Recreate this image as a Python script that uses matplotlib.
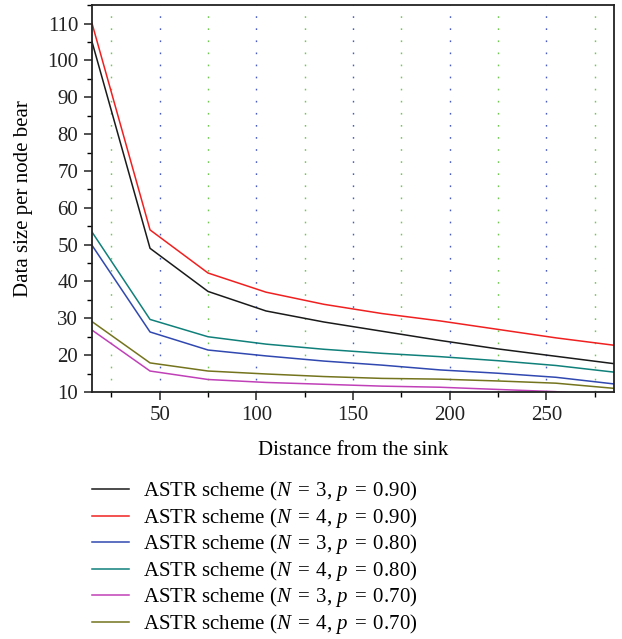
import matplotlib
matplotlib.use('Agg')
import matplotlib.pyplot as plt
from matplotlib.ticker import MultipleLocator

plt.rcParams['font.family'] = ['Liberation Serif', 'DejaVu Serif']
plt.rcParams['mathtext.fontset'] = 'custom'
plt.rcParams['mathtext.rm'] = 'Liberation Serif'
plt.rcParams['mathtext.it'] = 'Liberation Serif:italic'

# distance from the sink
distance = [15, 45, 75, 105, 135, 165, 195, 225, 255, 285]

# data size per node bear
n3_p90 = [105, 49, 37.3, 32, 29, 26.5, 24, 21.7, 19.7, 17.7]
n4_p90 = [110, 54, 42.3, 37.1, 33.8, 31.3, 29.3, 27, 24.7, 22.7]
n3_p80 = [49.8, 26.3, 21.4, 19.8, 18.4, 17.3, 16, 15.1, 14, 12.2]
n4_p80 = [53.4, 29.7, 25, 23, 21.6, 20.5, 19.6, 18.5, 17.2, 15.4]
n3_p70 = [26.8, 15.7, 13.4, 12.6, 12.1, 11.6, 11.3, 10.7, 10.1, 8.7]
n4_p70 = [29.1, 17.9, 15.7, 14.9, 14.2, 13.7, 13.5, 13, 12.4, 11]

labels = [
    'ASTR scheme ($N$\u2004=\u20043, $p$\u2004=\u20040.90)',
    'ASTR scheme ($N$\u2004=\u20044, $p$\u2004=\u20040.90)',
    'ASTR scheme ($N$\u2004=\u20043, $p$\u2004=\u20040.80)',
    'ASTR scheme ($N$\u2004=\u20044, $p$\u2004=\u20040.80)',
    'ASTR scheme ($N$\u2004=\u20043, $p$\u2004=\u20040.70)',
    'ASTR scheme ($N$\u2004=\u20044, $p$\u2004=\u20040.70)',
]
series = [n3_p90, n4_p90, n3_p80, n4_p80, n3_p70, n4_p70]
colors = ['#1a1a1a', '#f02020', '#3048b0', '#10807a', '#c040b8', '#74741e']

fs = 15

fig = plt.figure(figsize=(6.22, 6.39), dpi=100)
ax = fig.add_axes([0.148, 0.3865, 0.839, 0.6055])

for ys, c, lab in zip(series, colors, labels):
    ax.plot(distance, ys, color=c, lw=1.1, label=lab)

ax.set_xlim(15, 285)
ax.set_ylim(10, 115)
ax.xaxis.set_major_locator(MultipleLocator(50))
ax.xaxis.set_minor_locator(MultipleLocator(25))
ax.yaxis.set_minor_locator(MultipleLocator(5))
ax.set_yticks(range(10, 111, 10))

# dotted vertical guides: blue on major ticks, green on minor ticks
ax.grid(True, which='major', axis='x', color='#4a5cc0', lw=1.0, linestyle=(0, (1.2, 7.5)))
ax.grid(True, which='minor', axis='x', color='#70c850', lw=1.0, linestyle=(0, (1.2, 7.5)))

ax.tick_params(which='major', direction='out', length=6, width=1.1, labelsize=fs, colors='#222222', pad=4)
ax.tick_params(which='minor', direction='out', length=3.5, width=1.0)
for s in ax.spines.values():
    s.set_linewidth(1.3)
    s.set_color('#222222')

ax.set_xlabel('Distance from the sink', fontsize=fs)
ax.set_ylabel('Data size per node bear', fontsize=fs)
ax.xaxis.set_label_coords(0.5, -0.127)
ax.yaxis.set_label_coords(-0.113, 0.5)

ax.legend(loc='upper left', bbox_to_anchor=(0.0, -0.226), frameon=False,
          fontsize=fs, handlelength=1.75, handletextpad=0.68, labelspacing=0.12,
          borderaxespad=0, borderpad=0)

fig.savefig('out.png', dpi=100)
